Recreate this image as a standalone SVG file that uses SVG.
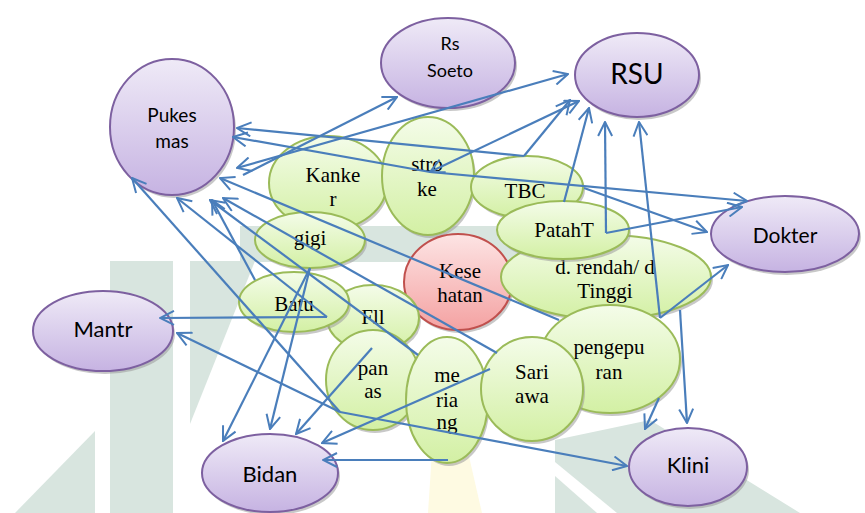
<svg xmlns="http://www.w3.org/2000/svg" width="865" height="513" viewBox="0 0 865 513">
<defs>
<linearGradient id="gp" x1="0" y1="0" x2="0" y2="1"><stop offset="0" stop-color="#efeaf7"/><stop offset="1" stop-color="#c6b3e2"/></linearGradient>
<linearGradient id="gg" x1="0" y1="0" x2="0" y2="1"><stop offset="0" stop-color="#f4fce9"/><stop offset="1" stop-color="#d3f0a4"/></linearGradient>
<linearGradient id="gr" x1="0" y1="0" x2="0" y2="1"><stop offset="0" stop-color="#fde4e4"/><stop offset="1" stop-color="#f4a2a2"/></linearGradient>
<marker id="ah" viewBox="0 0 16 16" refX="15" refY="8" markerWidth="16" markerHeight="16" markerUnits="userSpaceOnUse" orient="auto-start-reverse"><path d="M1,1 L15,8 L1,15" fill="none" stroke="#4a7ebb" stroke-width="2"/></marker>
</defs>
<style>
.p{fill:url(#gp);stroke:#7d60a0;stroke-width:2}
.g{fill:url(#gg);stroke:#9bbb59;stroke-width:2}
.r{fill:url(#gr);stroke:#c0504d;stroke-width:2}
.sh{fill:#9a9a9a;opacity:0.55}
.tp{font-family:Lato,"Liberation Sans",sans-serif;fill:#000;text-anchor:middle}
.tg{font-family:"Liberation Serif",serif;fill:#000;text-anchor:middle;font-size:21px}
.c line{stroke:#4a7ebb;stroke-width:2.2;fill:none;marker-end:url(#ah)}
.w{fill:#d8e5df}
</style>
<rect width="865" height="513" fill="#fff"/>
<g id="watermark">
<rect class="w" x="110" y="261" width="63" height="252"/>
<polygon class="w" points="190,261 255,261 190,424"/>
<polygon class="w" points="15,513 95,431 95,513"/>
<polygon class="w" points="240,226 560,226 560,262 240,262"/>
<polygon class="w" points="555,440 650,420 800,513 555,513"/>
<polygon fill="#fff" points="555,462 555,476 597,513 617,513"/>
<polygon fill="#fefae2" points="432,452 468,452 482,513 428,513"/>
</g>
<g id="pukesmas"><ellipse class="sh" cx="174" cy="130" rx="62" ry="68"/><ellipse class="p" cx="172" cy="127" rx="62" ry="68"/><text class="tp" font-size="19" x="172" y="122">Pukes</text><text class="tp" font-size="19" x="172" y="148">mas</text></g>
<g id="rssoeto"><ellipse class="sh" cx="450" cy="66" rx="67" ry="45"/><ellipse class="p" cx="448" cy="63" rx="67" ry="45"/><text class="tp" font-size="18" x="450" y="50">Rs</text><text class="tp" font-size="18" x="450" y="77">Soeto</text></g>
<g id="rsu"><ellipse class="sh" cx="639" cy="78" rx="62" ry="42"/><ellipse class="p" cx="637" cy="75" rx="62" ry="42"/><text class="tp" font-size="28" x="637" y="84">RSU</text></g>
<g id="dokter"><ellipse class="sh" cx="787" cy="237" rx="74" ry="38"/><ellipse class="p" cx="785" cy="234" rx="74" ry="38"/><text class="tp" font-size="21" x="785" y="243">Dokter</text></g>
<g id="mantr"><ellipse class="sh" cx="105" cy="334" rx="70" ry="40"/><ellipse class="p" cx="103" cy="331" rx="70" ry="40"/><text class="tp" font-size="22" x="103" y="337">Mantr</text></g>
<g id="bidan"><ellipse class="sh" cx="272" cy="476" rx="68" ry="39"/><ellipse class="p" cx="270" cy="473" rx="68" ry="39"/><text class="tp" font-size="22" x="270" y="482">Bidan</text></g>
<g id="klini"><ellipse class="sh" cx="690" cy="470" rx="59" ry="39"/><ellipse class="p" cx="688" cy="467" rx="59" ry="39"/><text class="tp" font-size="22" x="688" y="473">Klini</text></g>
<g id="kanker"><ellipse class="sh" cx="330" cy="186" rx="59" ry="47"/><ellipse class="g" cx="328" cy="183" rx="59" ry="47"/><text class="tg" x="333" y="182">Kanke</text><text class="tg" x="333" y="206">r</text></g>
<g id="stroke"><ellipse class="sh" cx="430" cy="179" rx="46" ry="59"/><ellipse class="g" cx="428" cy="176" rx="46" ry="59"/><text class="tg" font-size="18" x="427" y="171">stro</text><text class="tg" font-size="18" x="427" y="196">ke</text></g>
<g id="tbc"><ellipse class="sh" cx="529" cy="190" rx="56" ry="31"/><ellipse class="g" cx="527" cy="187" rx="56" ry="31"/><text class="tg" font-size="23" x="525" y="198">TBC</text></g>
<g id="gigi"><ellipse class="sh" cx="312" cy="243" rx="55" ry="28"/><ellipse class="g" cx="310" cy="240" rx="55" ry="28"/><text class="tg" x="310" y="245">gigi</text></g>
<g id="kesehatan"><ellipse class="sh" cx="460" cy="285" rx="54" ry="48"/><ellipse class="r" cx="458" cy="282" rx="54" ry="48"/><text class="tg" x="460" y="278">Kese</text><text class="tg" x="460" y="302">hatan</text></g>
<g id="drendah"><ellipse class="sh" cx="608" cy="280" rx="105" ry="42"/><ellipse class="g" cx="606" cy="277" rx="105" ry="42"/><text class="tg" x="605" y="274">d. rendah/ d</text><text class="tg" x="605" y="298">Tinggi</text></g>
<g id="patah"><ellipse class="sh" cx="565" cy="233" rx="66" ry="29"/><ellipse class="g" cx="563" cy="230" rx="66" ry="29"/><text class="tg" x="564" y="237">PatahT</text></g>
<g id="fll"><ellipse class="sh" cx="375" cy="321" rx="46" ry="33"/><ellipse class="g" cx="373" cy="318" rx="46" ry="33"/><text class="tg" font-size="23" x="373" y="324">Fll</text></g>
<g id="batu"><ellipse class="sh" cx="296" cy="305" rx="55" ry="30"/><ellipse class="g" cx="294" cy="302" rx="55" ry="30"/><text class="tg" font-size="23" x="294" y="311">Batu</text></g>
<g id="panas"><ellipse class="sh" cx="375" cy="383" rx="47" ry="50"/><ellipse class="g" cx="373" cy="380" rx="47" ry="50"/><text class="tg" x="373" y="375">pan</text><text class="tg" x="373" y="398">as</text></g>
<g id="meriang"><ellipse class="sh" cx="449" cy="403" rx="41" ry="63"/><ellipse class="g" cx="447" cy="400" rx="41" ry="63"/><text class="tg" x="447" y="382">me</text><text class="tg" x="447" y="407">ria</text><text class="tg" x="447" y="429">ng</text></g>
<g id="pengepuran"><ellipse class="sh" cx="612" cy="362" rx="70" ry="54"/><ellipse class="g" cx="610" cy="359" rx="70" ry="54"/><text class="tg" x="609" y="354">pengepu</text><text class="tg" x="609" y="379">ran</text></g>
<g id="sariawa"><ellipse class="sh" cx="534" cy="392" rx="51" ry="52"/><ellipse class="g" cx="532" cy="389" rx="51" ry="52"/><text class="tg" x="532" y="379">Sari</text><text class="tg" x="532" y="403">awa</text></g>
<g id="connectors" class="c">
<line x1="524" y1="156" x2="237" y2="128"/>
<line x1="524" y1="156" x2="570" y2="100"/>
<line x1="430" y1="172" x2="233" y2="137"/>
<line x1="430" y1="172" x2="747" y2="201"/>
<line x1="579" y1="101" x2="430" y2="172" style="marker-start:url(#ah)"/>
<line x1="237" y1="168" x2="568" y2="74" style="marker-start:url(#ah)"/>
<line x1="243" y1="175" x2="397" y2="97"/>
<line x1="340" y1="412" x2="132" y2="178"/>
<line x1="340" y1="412" x2="177" y2="333"/>
<line x1="340" y1="412" x2="627" y2="466"/>
<line x1="327" y1="317" x2="160" y2="318"/>
<line x1="327" y1="317" x2="177" y2="198"/>
<line x1="559" y1="320" x2="220" y2="178"/>
<line x1="418" y1="355" x2="210" y2="200"/>
<line x1="497" y1="353" x2="223" y2="198"/>
<line x1="255" y1="280" x2="212" y2="200"/>
<line x1="310" y1="268" x2="223" y2="441"/>
<line x1="310" y1="268" x2="270" y2="429"/>
<line x1="372" y1="348" x2="296" y2="434"/>
<line x1="490" y1="369" x2="322" y2="443"/>
<line x1="448" y1="460" x2="323" y2="460"/>
<line x1="564" y1="202" x2="589" y2="108"/>
<line x1="606" y1="233" x2="605" y2="122"/>
<line x1="606" y1="233" x2="742" y2="207"/>
<line x1="660" y1="318" x2="639" y2="122"/>
<line x1="584" y1="188" x2="707" y2="232"/>
<line x1="660" y1="318" x2="728" y2="265"/>
<line x1="680" y1="310" x2="687" y2="423"/>
<line x1="659" y1="398" x2="645" y2="429"/>
</g>
</svg>
